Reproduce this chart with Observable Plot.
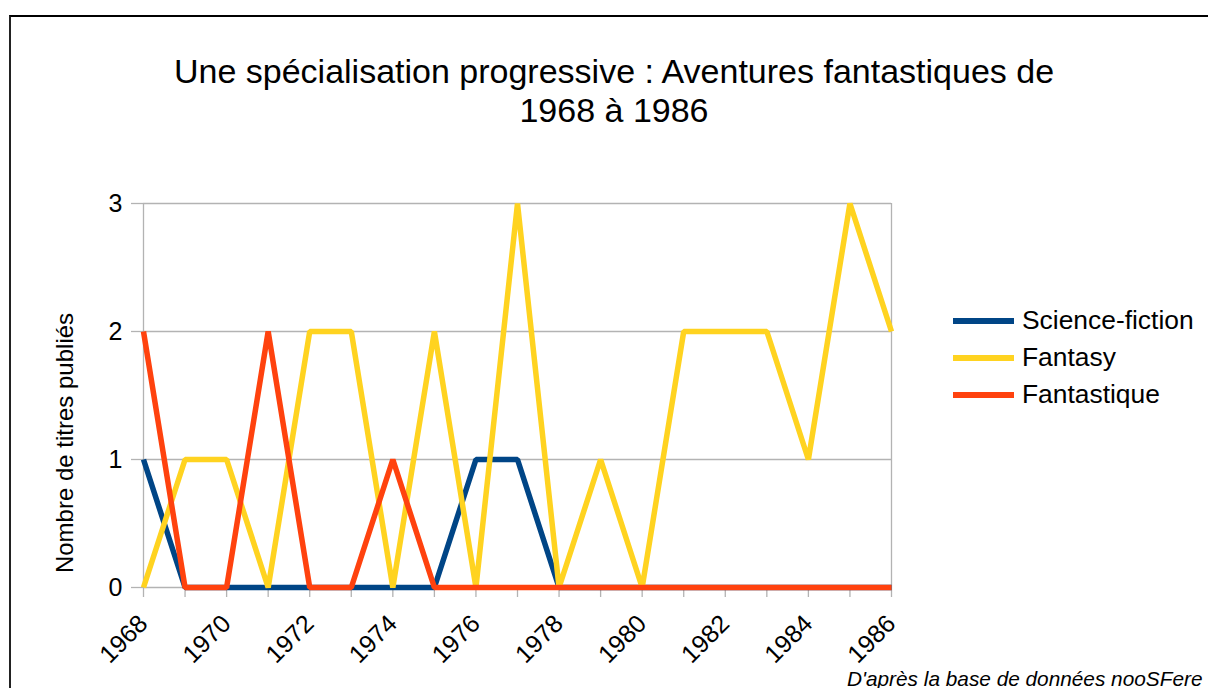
<!DOCTYPE html>
<html>
<head>
<meta charset="utf-8">
<script src="https://cdn.jsdelivr.net/npm/d3@7"></script>
<script src="https://cdn.jsdelivr.net/npm/@observablehq/plot@0.6"></script>
<style>
  html, body { margin: 0; padding: 0; background: #fff; overflow: hidden; }
  body { width: 1208px; height: 688px; position: relative; font-family: "Liberation Sans", Arial, sans-serif; color: #000; }
  #frame { position: absolute; left: 9px; top: 15px; right: -10px; bottom: -10px; border-left: 2px solid #222; border-top: 2px solid #000; }
  #chart { position: absolute; left: 0; top: 0; }
  #chart svg { display: block; }
  #title { position: absolute; left: 114px; width: 1000px; top: 52px; text-align: center; font-size: 34px; line-height: 39px; }
  #ytitle { position: absolute; left: 65px; top: 443px; transform: translate(-50%, -50%) rotate(-90deg); font-size: 24px; white-space: nowrap; }
  #legend { position: absolute; left: 953px; top: 302px; }
  .row { display: flex; align-items: center; height: 37px; }
  .sw { width: 61px; height: 6px; margin-right: 8px; }
  .lab { font-size: 26.4px; white-space: nowrap; }
  #caption { position: absolute; left: 847px; top: 668px; font-size: 20.8px; line-height: 21px; font-style: italic; white-space: nowrap; }
</style>
</head>
<body>
<div id="frame"></div>
<div id="chart"></div>
<div id="title">Une spécialisation progressive : Aventures fantastiques de<br>1968 à 1986</div>
<div id="ytitle">Nombre de titres publiés</div>
<div id="legend"></div>
<div id="caption">D'après la base de données nooSFere</div>
<script>
const years = [1968,1969,1970,1971,1972,1973,1974,1975,1976,1977,1978,1979,1980,1981,1982,1983,1984,1985,1986];
const scienceFiction = [1,0,0,0,0,0,0,0,1,1,0,0,0,0,0,0,0,0,0];
const fantasy        = [0,1,1,0,2,2,0,2,0,3,0,1,0,2,2,2,1,3,2];
const fantastique    = [2,0,0,2,0,0,1,0,0,0,0,0,0,0,0,0,0,0,0];
const seriesNames = ["Science-fiction", "Fantasy", "Fantastique"];
const seriesColors = ["#004586", "#ffd320", "#ff420e"];
const yTicks = [0, 1, 2, 3];
const xLabelYears = [1968,1970,1972,1974,1976,1978,1980,1982,1984,1986];

const seriesValues = [scienceFiction, fantasy, fantastique];
const data = seriesNames.flatMap((name, i) =>
  years.map((year, j) => ({year, value: seriesValues[i][j], series: name}))
);

const chart = Plot.plot({
  width: 1208,
  height: 688,
  marginLeft: 143,
  marginRight: 317,
  marginTop: 203,
  marginBottom: 101,
  style: {fontFamily: "'Liberation Sans', Arial, sans-serif", fontSize: "25px", color: "#000", background: "transparent", overflow: "visible"},
  x: {domain: [1968, 1986]},
  y: {domain: [0, 3]},
  color: {domain: seriesNames, range: seriesColors},
  marks: [
    Plot.ruleY(yTicks, {stroke: "#b3b3b3", strokeWidth: 1.3}),
    Plot.ruleX([years[0], years[years.length - 1]], {stroke: "#b3b3b3", strokeWidth: 1.3}),
    Plot.axisY({ticks: yTicks, tickSize: 12, tickPadding: 9, stroke: "#b3b3b3", strokeWidth: 1.3, fill: "#000", label: null, tickFormat: d => String(d)}),
    Plot.axisX({ticks: years, tickSize: 10, stroke: "#b3b3b3", strokeWidth: 1.3, label: null, tickFormat: () => ""}),
    Plot.axisX({ticks: xLabelYears, tickSize: 0, tickPadding: 16, dy: 16, dx: 0, tickRotate: -45, fill: "#000", label: null, tickFormat: d => String(d)}),
    Plot.line(data, {x: "year", y: "value", z: "series", stroke: "series", strokeWidth: 5.5, strokeLinejoin: "miter", strokeLinecap: "butt"})
  ]
});
document.getElementById("chart").appendChild(chart);

const legend = document.getElementById("legend");
seriesNames.forEach((name, i) => {
  const row = document.createElement("div");
  row.className = "row";
  const sw = document.createElement("div");
  sw.className = "sw";
  sw.style.background = seriesColors[i];
  const lab = document.createElement("div");
  lab.className = "lab";
  lab.textContent = name;
  row.appendChild(sw);
  row.appendChild(lab);
  legend.appendChild(row);
});
</script>
</body>
</html>
